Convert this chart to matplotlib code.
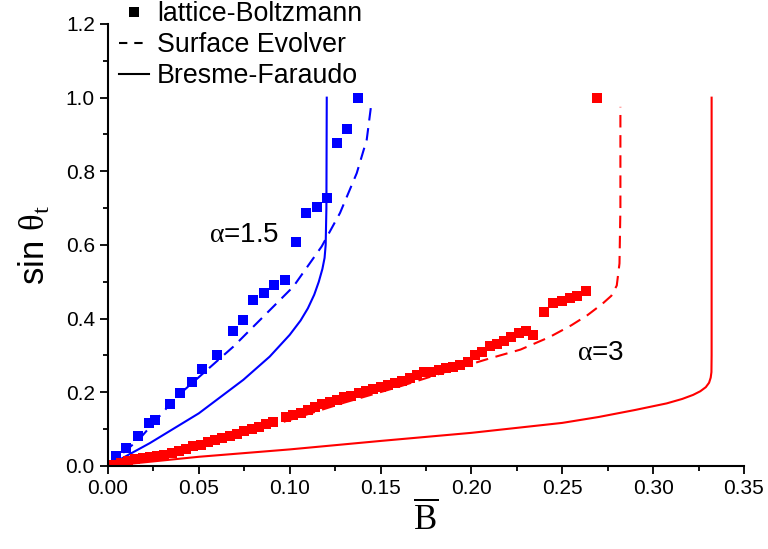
import matplotlib
matplotlib.use('Agg')
import matplotlib.pyplot as plt
from matplotlib.ticker import MultipleLocator, FormatStrFormatter
from matplotlib.lines import Line2D

plt.rcParams['font.family'] = 'Liberation Sans'
plt.rcParams['mathtext.fontset'] = 'custom'
plt.rcParams['mathtext.rm'] = 'Liberation Serif'
plt.rcParams['mathtext.it'] = 'Liberation Serif:italic'
plt.rcParams['lines.scale_dashes'] = False

BLUE = '#0000ff'
RED = '#ff0000'

# alpha = 1.5 : lattice-Boltzmann
lb15_x = [0.0044, 0.0099, 0.0167, 0.0226, 0.0259, 0.0340, 0.0396, 0.0460, 0.0516, 0.0600,
          0.0686, 0.0745, 0.0800, 0.0859, 0.0916, 0.0974, 0.1033, 0.1092, 0.1148, 0.1207,
          0.1262, 0.1317, 0.1374]
lb15_y = [0.028, 0.050, 0.082, 0.116, 0.125, 0.168, 0.197, 0.227, 0.263, 0.302,
          0.366, 0.397, 0.452, 0.471, 0.491, 0.505, 0.607, 0.687, 0.702, 0.727,
          0.877, 0.916, 1.000]
# alpha = 1.5 : Surface Evolver
se15_x = [0.0, 0.0176, 0.0378, 0.069, 0.102, 0.1176, 0.1277, 0.1369, 0.1424, 0.1451]
se15_y = [0.0, 0.075, 0.188, 0.324, 0.487, 0.596, 0.687, 0.795, 0.886, 0.990]
# alpha = 1.5 : Bresme-Faraudo
bf15_x = [0.0, 0.023, 0.050, 0.0745, 0.089, 0.100, 0.106, 0.110, 0.1135, 0.116, 0.118,
          0.1192, 0.1198, 0.1202, 0.1204]
bf15_y = [0.0, 0.062, 0.143, 0.234, 0.297, 0.356, 0.395, 0.428, 0.465, 0.500, 0.535,
          0.565, 0.600, 0.700, 1.000]

# alpha = 3 : lattice-Boltzmann
lb3_x = [0.003, 0.007, 0.011, 0.015, 0.019, 0.023, 0.027, 0.031, 0.035, 0.039,
         0.043, 0.047, 0.051, 0.055, 0.059, 0.063, 0.067, 0.071, 0.075, 0.079,
         0.083, 0.087, 0.091, 0.098, 0.102, 0.106, 0.110, 0.114, 0.118, 0.122,
         0.126, 0.130, 0.134, 0.138, 0.142, 0.146, 0.150, 0.154, 0.158, 0.162,
         0.166, 0.170, 0.174, 0.178, 0.182, 0.186, 0.190, 0.194, 0.198, 0.202,
         0.206, 0.210, 0.214, 0.218, 0.222, 0.226, 0.230, 0.234, 0.240, 0.245,
         0.250, 0.254, 0.258, 0.263, 0.269]
lb3_y = [0.003, 0.008, 0.013, 0.018, 0.021, 0.025, 0.028, 0.031, 0.035, 0.042,
         0.047, 0.053, 0.058, 0.064, 0.070, 0.076, 0.082, 0.088, 0.094, 0.100,
         0.105, 0.113, 0.120, 0.134, 0.138, 0.145, 0.152, 0.160, 0.168, 0.173,
         0.180, 0.186, 0.191, 0.197, 0.203, 0.209, 0.214, 0.219, 0.226, 0.232,
         0.240, 0.248, 0.255, 0.256, 0.261, 0.265, 0.270, 0.275, 0.283, 0.300,
         0.310, 0.325, 0.330, 0.340, 0.350, 0.362, 0.366, 0.356, 0.419, 0.442,
         0.448, 0.456, 0.462, 0.476, 1.000]
# alpha = 3 : Surface Evolver
se3_x = [0.0, 0.02, 0.05, 0.08, 0.10, 0.13, 0.16, 0.19, 0.21, 0.227, 0.243, 0.255,
         0.264, 0.272, 0.277, 0.280, 0.2815, 0.282, 0.282]
se3_y = [0.0, 0.022, 0.058, 0.095, 0.125, 0.172, 0.215, 0.262, 0.292, 0.316, 0.350, 0.382,
         0.410, 0.440, 0.462, 0.490, 0.550, 0.700, 0.975]
# alpha = 3 : Bresme-Faraudo
bf3_x = [0.0, 0.05, 0.10, 0.15, 0.20, 0.25, 0.27, 0.29, 0.3075, 0.316, 0.322, 0.326,
         0.329, 0.3308, 0.3317, 0.3321, 0.3322, 0.3322]
bf3_y = [0.0, 0.025, 0.045, 0.068, 0.090, 0.117, 0.133, 0.152, 0.170, 0.182, 0.193, 0.203,
         0.214, 0.226, 0.240, 0.255, 0.300, 1.000]

fig = plt.figure(figsize=(7.68, 5.49), dpi=100)
ax = fig.add_axes([0.1406, 0.1512, 0.8281, 0.8051])

lw = 1.5
dash = (9, 5.5)
ms = 6.8
ax.plot(bf15_x, bf15_y, '-', color=BLUE, lw=lw)
ax.plot(se15_x, se15_y, color=BLUE, lw=lw, dashes=dash)
ax.plot(lb15_x, lb15_y, 's', color=BLUE, ms=ms, mew=0, linestyle='none')

ax.plot(bf3_x, bf3_y, '-', color=RED, lw=lw)
ax.plot(se3_x, se3_y, color=RED, lw=lw, dashes=dash)
ax.plot(lb3_x, lb3_y, 's', color=RED, ms=ms, mew=0, linestyle='none')

ax.text(0.075, 0.628, r'$\mathrm{\alpha}$=1.5', fontsize=20, ha='center', va='center')
ax.text(0.2713, 0.307, r'$\mathrm{\alpha}$=3', fontsize=20, ha='center', va='center')

ax.set_xlim(0, 0.35)
ax.set_ylim(0, 1.2)
ax.xaxis.set_major_locator(MultipleLocator(0.05))
ax.xaxis.set_minor_locator(MultipleLocator(0.025))
ax.yaxis.set_major_locator(MultipleLocator(0.2))
ax.yaxis.set_minor_locator(MultipleLocator(0.1))
ax.xaxis.set_major_formatter(FormatStrFormatter('%.2f'))
ax.yaxis.set_major_formatter(FormatStrFormatter('%.1f'))
ax.tick_params(which='major', direction='out', length=6, width=1.3, labelsize=15)
ax.tick_params(which='minor', direction='out', length=3.5, width=1.3)
ax.spines['top'].set_visible(False)
ax.spines['right'].set_visible(False)
for s in ('left', 'bottom'):
    ax.spines[s].set_linewidth(1.5)

ax.set_xlabel(r'$\overline{\mathrm{B}}$', fontsize=25, labelpad=2)
ax.set_ylabel(r'sin $\mathrm{\theta}_\mathrm{t}$', fontsize=25, labelpad=10)

handles = [
    Line2D([], [], color='black', marker='s', ms=ms, mew=0, linestyle='none'),
    Line2D([], [], color='black', lw=lw, dashes=(6, 5)),
    Line2D([], [], color='black', lw=lw),
]
fig.legend(handles, ['lattice-Boltzmann', 'Surface Evolver', 'Bresme-Faraudo'],
           loc='upper left', bbox_to_anchor=(119 / 768, 0.998), frameon=False,
           borderpad=0, borderaxespad=0,
           fontsize=19.3, handlelength=1.12, handletextpad=0.3, labelspacing=0.19)

fig.savefig('out.png', dpi=100)
